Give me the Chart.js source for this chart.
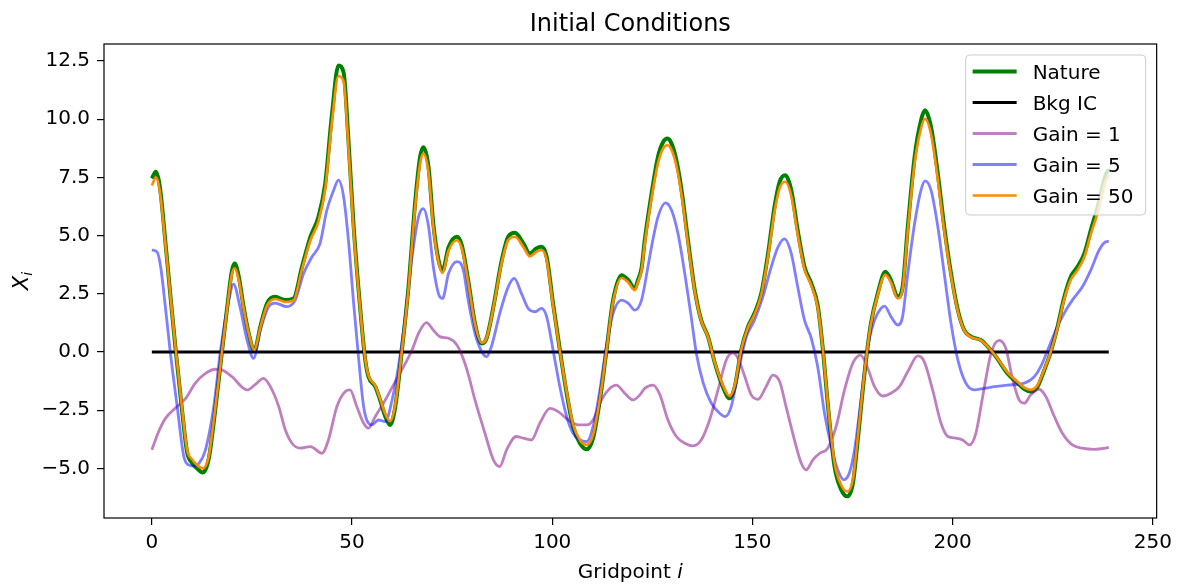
<!DOCTYPE html>
<html>
<head>
<meta charset="utf-8">
<script src="https://cdn.jsdelivr.net/npm/chart.js@4.4.1/dist/chart.umd.min.js"></script>
<style>
  body { margin: 0; background: #fff; }
  canvas { display: block; }
</style>
</head>
<body>
<canvas id="ic" width="1178" height="588"></canvas>
<script>
// gridpoint, value pairs for each field
let nature = [
  [0, 7.45], [1, 7.74], [2, 7.1], [3.4, 4.7], [4.7, 2.3], [6, 0], [7.6, -2.6], [8.8, -4.3], [10, -4.75],
  [11.3, -5.0], [12.7, -5.18], [14.2, -4.6], [15.4, -3.1], [16.7, -1.2], [17.5, 0], [18.8, 1.9], [20, 3.5],
  [20.7, 3.8], [21.7, 3.25], [22.9, 1.95], [24.2, 0.8], [25.6, 0.05], [27.1, 1.1], [28.8, 2.1], [30.8, 2.37],
  [33.3, 2.23], [35.4, 2.3], [37.5, 3.66], [39.6, 4.95], [41.6, 5.8], [43.3, 7.24], [45, 10.24], [46.6, 12.31],
  [47.9, 12.0], [49.1, 9.1], [50.4, 5.4], [52, 1.94], [53.3, -0.34], [54.1, -1.06], [55.8, -1.49], [57, -2.06],
  [58.3, -2.77], [59.5, -3.13], [60.8, -2.35], [62.4, 0], [64.1, 2.8], [65.8, 6.5], [67, 8.38], [67.8, 8.8],
  [69.1, 7.95], [70.3, 5.5], [71.6, 3.95], [72.6, 3.5], [74.1, 4.5], [76.2, 4.95], [77.4, 4.6], [79, 3.09],
  [80.7, 1.23], [82.4, 0.37], [83.6, 0.59], [85.3, 1.94], [87.4, 3.95], [89, 4.95], [90.7, 5.12], [92.8, 4.66],
  [94.4, 4.23], [96, 4.45], [97.3, 4.52], [98.6, 4.09], [100.2, 2.09], [101.9, 0.09], [103.6, -1.77],
  [105.2, -3.2], [106.9, -3.92], [108.6, -4.18], [110.2, -3.7], [111.9, -2.06], [113.5, 0], [115.2, 2.23],
  [117.3, 3.3], [119, 3.09], [120.6, 2.73], [121.4, 3.09], [122.3, 3.6], [123.1, 4.8], [124.8, 6.8],
  [126.4, 8.38], [127.7, 9.02], [128.8, 9.17], [129.8, 8.95], [131, 8.24], [132.3, 6.95], [133.9, 4.8],
  [135.6, 2.66], [137.2, 1.37], [138.9, 0.66], [140.6, -0.47], [142.6, -1.49], [144.3, -1.99], [145.6, -1.49],
  [147.2, 0.09], [148.9, 1.09], [150.5, 1.66], [152.2, 2.52], [153.9, 4.23], [155.5, 6.23], [156.8, 7.31],
  [158.2, 7.59], [159.7, 6.95], [161.3, 5.23], [163, 3.66], [164.7, 2.95], [166.3, 2.0], [167.6, 0.1],
  [168.8, -2.2], [170.5, -4.92], [172.2, -5.92], [173.7, -6.2], [175.1, -5.63], [176.3, -3.78], [178, -0.9],
  [179.6, 1.23], [181.3, 2.52], [183.2, 3.45], [184.6, 3.09], [186.3, 2.37], [187.5, 2.8], [188.8, 5.38],
  [190.5, 8.38], [192.1, 9.95], [193.1, 10.38], [194.6, 9.67], [196.3, 7.66], [197.9, 5.38], [199.6, 3.37],
  [201.3, 1.8], [202.9, 0.94], [204.6, 0.66], [207.1, 0.51], [208.7, 0.24], [210.8, -0.2], [213.7, -0.92],
  [216.2, -1.33], [217.9, -1.59], [219.5, -1.7], [221.2, -1.49], [222.9, -0.77], [224.5, 0], [226.2, 1.09],
  [227.9, 2.37], [229.5, 3.23], [231.2, 3.66], [232.9, 4.23], [234.5, 5.23], [236.2, 6.23], [238.2, 7.6],
  [239, 7.85]
]

let bkgIC = [[0, 0], [239, 0]]

let gain1 = [
  [0, -4.2], [1.75, -3.4], [3.4, -2.85], [5.9, -2.4], [8.4, -2.0], [10.9, -1.33], [13.4, -0.92], [15.9, -0.74],
  [17.5, -0.77], [20, -1.06], [23.8, -1.63], [25.8, -1.4], [27.9, -1.13], [29.6, -1.49], [31.7, -2.35],
  [33.3, -3.33], [35, -3.92], [37, -4.13], [39.6, -4.06], [42.5, -4.35], [44.1, -3.78], [46.2, -2.35],
  [48.3, -1.7], [49.5, -1.63], [51.2, -2.35], [52.9, -3.06], [54.1, -3.27], [55.8, -2.77], [58.3, -2.06],
  [60.8, -1.27], [63.3, -0.49], [65, 0.09], [66.6, 0.8], [68.6, 1.26], [70.3, 0.94], [71.9, 0.66], [74.1, 0.59],
  [76.2, 0.3], [77.8, -0.3], [79.1, -1.0], [80.7, -2.06], [83.2, -3.49], [85.3, -4.63], [86.9, -4.92],
  [88.6, -4.2], [91, -3.63], [92.8, -3.7], [94.8, -3.78], [96.9, -3.06], [99.4, -2.42], [101.5, -2.56],
  [104, -2.92], [106.5, -3.13], [108.6, -3.13], [110.2, -2.92], [112.3, -2.06], [114.4, -1.56], [116, -1.42],
  [118.1, -1.77], [120.2, -2.06], [121.9, -1.84], [123.1, -1.56], [125.2, -1.42], [126.9, -1.84], [128.9, -2.92],
  [131, -3.63], [133.1, -3.92], [135.1, -4.03], [137.2, -3.78], [139.3, -2.92], [141.4, -1.63], [143.5, -0.33],
  [145.1, -0.04], [146.4, -0.27], [148.1, -1.06], [149.7, -1.84], [151.4, -2.03], [153.4, -1.49], [155.1, -0.99],
  [156.8, -1.27], [158.4, -2.35], [160.5, -3.78], [162.2, -4.78], [163.4, -5.06], [165.1, -4.63], [166.8, -4.35],
  [168.8, -4.13], [170.9, -3.2], [173, -1.63], [175.1, -0.47], [177, -0.13], [178.8, -0.7], [180.5, -1.49],
  [182.5, -1.89], [184.6, -1.77], [186.7, -1.49], [188.8, -0.84], [191.3, -0.17], [192.9, -0.41], [195, -1.63],
  [197.1, -3.06], [198.8, -3.63], [200.8, -3.7], [202.5, -3.78], [204.2, -3.99], [205.8, -3.49], [207.5, -1.92],
  [209.6, -0.06], [211.6, 0.5], [213.3, 0.15], [215, -1.19], [216.6, -2.06], [217.9, -2.2], [219.5, -1.84],
  [221.6, -1.6], [223.3, -1.92], [225.4, -2.77], [227.4, -3.49], [229.9, -3.99], [232.4, -4.13], [235.3, -4.18],
  [238.2, -4.13], [239, -4.1]
]

let gain5 = [
  [0, 4.38], [1.3, 4.3], [2.2, 3.66], [3.4, 1.9], [4.6, 0], [6.3, -2.3], [8, -4.5], [9.2, -4.85], [10.5, -4.9],
  [11.7, -4.8], [13.4, -4.2], [15.5, -2.3], [17.1, 0], [19.2, 2.2], [20.4, 2.92], [22, 1.95], [23.8, 0.5],
  [25.4, -0.27], [27.1, 0.94], [29.2, 1.95], [30.8, 2.1], [33.7, 1.95], [35.8, 2.23], [37.9, 3.37], [40, 4.09],
  [42, 4.66], [43.7, 6.09], [45.4, 6.95], [46.6, 7.38], [47.9, 6.66], [49.1, 4.8], [50.4, 2.09], [51.6, -0.2],
  [52.9, -2.35], [54.1, -3.06], [55, -3.13], [56.6, -2.92], [58.3, -2.99], [60, -2.06], [61.6, -0.6],
  [63.3, 1.52], [65, 4.09], [66.6, 5.8], [67.8, 6.16], [69.1, 5.4], [70.3, 3.66], [71.6, 2.5], [72.6, 2.3],
  [74.1, 3.37], [76.2, 3.88], [77.8, 3.52], [79, 2.23], [80.7, 0.8], [82.4, 0.01], [83.6, -0.2], [84.8, 0.23],
  [86.9, 1.66], [89, 2.8], [90.5, 3.16], [92.3, 2.52], [94, 1.87], [95.7, 1.73], [97.3, 1.87], [98.6, 1.52],
  [100.2, 0.09], [101.9, -1.49], [103.6, -2.77], [105.2, -3.49], [106.9, -3.78], [108.6, -3.85], [110.2, -3.2],
  [111.9, -1.63], [113.5, 0.23], [115.2, 1.66], [117.3, 2.23], [119, 2.09], [120.6, 1.8], [122.3, 2.23],
  [123.9, 3.66], [124.8, 4.52], [126.4, 5.8], [128.3, 6.41], [129.8, 6.09], [131.4, 5.09], [133.1, 3.37],
  [134.7, 1.52], [136, -0.06], [137.7, -1.33], [139.7, -2.19], [141.8, -2.63], [143.2, -2.77], [144.7, -2.35],
  [146.4, -0.9], [148.5, 0.66], [150.5, 1.37], [152.6, 2.37], [154.7, 3.66], [156.4, 4.52], [158, 4.86],
  [159.7, 4.23], [161.3, 2.8], [163, 1.37], [164.7, 0.59], [166.3, -0.63], [168, -2.63], [169.7, -4.06],
  [171.3, -5.06], [172.8, -5.49], [174.2, -5.2], [175.5, -4.2], [177.2, -1.92], [178.8, 0.24], [180.5, 1.37],
  [182.1, 1.87], [183, 1.97], [184.6, 1.52], [186.3, 1.16], [187.5, 1.52], [188.8, 3.37], [190.5, 5.52],
  [192.1, 6.95], [193.1, 7.35], [194.6, 6.95], [196.3, 5.38], [197.9, 3.37], [199.6, 1.23], [201.3, -0.34],
  [203.3, -1.34], [205.4, -1.63], [207.9, -1.56], [210.4, -1.49], [213.7, -1.42], [217.9, -1.34], [220.4, -1.06],
  [222, -0.63], [224.1, 0.24], [226.2, 1.1], [228.3, 1.8], [229.9, 2.23], [232.4, 2.8], [234.5, 3.52],
  [236.6, 4.38], [238.2, 4.73], [239, 4.75]
]

let gain50 = [
  [0, 7.15], [1, 7.5], [2, 6.9], [3.4, 4.6], [4.7, 2.3], [6, 0.05], [7.6, -2.5], [8.8, -4.2], [10, -4.6],
  [11.3, -4.85], [12.7, -5.0], [14.2, -4.5], [15.4, -3.0], [16.7, -1.2], [17.5, 0], [18.8, 1.85], [20, 3.35],
  [20.7, 3.6], [21.7, 3.1], [22.9, 1.9], [24.2, 0.8], [25.6, 0.1], [27.1, 1.05], [28.8, 2.0], [30.8, 2.28],
  [33.3, 2.15], [35.4, 2.22], [37.5, 3.55], [39.6, 4.8], [41.6, 5.6], [43.3, 7.0], [45, 9.9], [46.6, 11.85],
  [47.9, 11.6], [49.1, 8.8], [50.4, 5.2], [52, 1.9], [53.3, -0.3], [54.1, -1.0], [55.8, -1.45], [57, -2.0],
  [58.3, -2.65], [59.5, -2.97], [60.8, -2.25], [62.4, 0], [64.1, 2.7], [65.8, 6.3], [67, 8.1], [67.8, 8.52],
  [69.1, 7.7], [70.3, 5.35], [71.6, 3.85], [72.6, 3.4], [74.1, 4.35], [76.2, 4.8], [77.4, 4.45], [79, 3.0],
  [80.7, 1.2], [82.4, 0.4], [83.6, 0.6], [85.3, 1.9], [87.4, 3.85], [89, 4.8], [90.7, 4.95], [92.8, 4.5],
  [94.4, 4.1], [96, 4.3], [97.3, 4.38], [98.6, 3.95], [100.2, 2.0], [101.9, 0.05], [103.6, -1.7], [105.2, -3.1],
  [106.9, -3.78], [108.6, -3.99], [110.2, -3.55], [111.9, -2.0], [113.5, 0], [115.2, 2.15], [117.3, 3.18],
  [119, 2.98], [120.6, 2.65], [121.4, 3.0], [122.3, 3.5], [123.1, 4.65], [124.8, 6.6], [126.4, 8.1],
  [127.7, 8.75], [128.8, 8.88], [129.8, 8.68], [131, 8.0], [132.3, 6.75], [133.9, 4.65], [135.6, 2.6],
  [137.2, 1.35], [138.9, 0.65], [140.6, -0.45], [142.6, -1.42], [144.3, -1.89], [145.6, -1.42], [147.2, 0.1],
  [148.9, 1.05], [150.5, 1.6], [152.2, 2.45], [153.9, 4.1], [155.5, 6.0], [156.8, 7.05], [158.2, 7.31],
  [159.7, 6.7], [161.3, 5.05], [163, 3.55], [164.7, 2.85], [166.3, 1.9], [167.6, 0.1], [168.8, -2.15],
  [170.5, -4.75], [172.2, -5.72], [173.7, -5.99], [175.1, -5.45], [176.3, -3.65], [178, -0.85], [179.6, 1.2],
  [181.3, 2.45], [183.2, 3.32], [184.6, 2.98], [186.3, 2.3], [187.5, 2.7], [188.8, 5.2], [190.5, 8.1],
  [192.1, 9.6], [193.1, 10.02], [194.6, 9.35], [196.3, 7.4], [197.9, 5.2], [199.6, 3.27], [201.3, 1.75],
  [202.9, 0.92], [204.6, 0.64], [207.1, 0.5], [208.7, 0.24], [210.8, -0.18], [213.7, -0.88], [216.2, -1.28],
  [217.9, -1.53], [219.5, -1.62], [221.2, -1.42], [222.9, -0.73], [224.5, 0], [226.2, 1.04], [227.9, 2.28],
  [229.5, 3.1], [231.2, 3.52], [232.9, 4.08], [234.5, 5.05], [236.2, 5.98], [238.2, 7.35], [239, 7.6]
]

let xTicks = [0, 50, 100, 150, 200, 250]
let yTicks = [-5, -2.5, 0, 2.5, 5, 7.5, 10, 12.5]

const FONT = "'DejaVu Sans', sans-serif"

function toXY(pts) {
    return pts.map(p => ({ x: p[0], y: p[1] }))
}

function series(label, pts, color, width, order) {
    return {
        label: label,
        data: toXY(pts),
        borderColor: color,
        borderWidth: width,
        pointRadius: 0,
        fill: false,
        cubicInterpolationMode: 'monotone',
        order: order
    }
}

// frame, titles and the boxed legend, drawn on top of the chart
let decorations = {
    id: 'decorations',
    afterDraw(chart) {
        let ctx = chart.ctx
        let area = chart.chartArea
        ctx.save()

        ctx.strokeStyle = '#000'
        ctx.lineWidth = 1.2
        ctx.strokeRect(area.left, area.top, area.right - area.left, area.bottom - area.top)

        ctx.fillStyle = '#000'
        ctx.textAlign = 'center'
        ctx.textBaseline = 'alphabetic'
        ctx.font = '24px ' + FONT
        ctx.fillText('Initial Conditions', (area.left + area.right) / 2, 31)

        // x axis title: "Gridpoint" plus an italic i
        ctx.font = '20px ' + FONT
        let w1 = ctx.measureText('Gridpoint ').width
        ctx.font = 'italic 20px ' + FONT
        let w2 = ctx.measureText('i').width
        let x0 = (area.left + area.right) / 2 - (w1 + w2) / 2
        ctx.textAlign = 'left'
        ctx.font = '20px ' + FONT
        ctx.fillText('Gridpoint ', x0, 578)
        ctx.font = 'italic 20px ' + FONT
        ctx.fillText('i', x0 + w1, 578)

        // y axis title: X with subscript i, rotated
        ctx.save()
        ctx.translate(28, 281)
        ctx.rotate(-Math.PI / 2)
        ctx.font = 'italic 21px ' + FONT
        let wx = ctx.measureText('X').width
        ctx.font = 'italic 14px ' + FONT
        let wi = ctx.measureText('i').width
        ctx.font = 'italic 21px ' + FONT
        ctx.fillText('X', -(wx + wi) / 2, 0)
        ctx.font = 'italic 14px ' + FONT
        ctx.fillText('i', -(wx + wi) / 2 + wx, 4)
        ctx.restore()

        // legend box in the upper right corner
        let bw = 180, bh = 160
        let bx = area.right - 11 - bw
        let by = area.top + 11
        ctx.beginPath()
        ctx.roundRect(bx, by, bw, bh, 4)
        ctx.fillStyle = 'rgba(255,255,255,0.8)'
        ctx.fill()
        ctx.strokeStyle = '#cccccc'
        ctx.lineWidth = 1
        ctx.stroke()

        ctx.font = '20px ' + FONT
        ctx.textAlign = 'left'
        chart.data.datasets.forEach((ds, i) => {
            let ry = by + 16.5 + i * 31
            ctx.beginPath()
            ctx.moveTo(bx + 7, ry)
            ctx.lineTo(bx + 51, ry)
            ctx.strokeStyle = ds.borderColor
            ctx.lineWidth = ds.borderWidth
            ctx.stroke()
            ctx.fillStyle = '#000'
            ctx.fillText(ds.label, bx + 67, ry + 7)
        })

        ctx.restore()
    }
}

let ctx1 = document.getElementById('ic').getContext('2d')

let icChart = new Chart(ctx1, {
    type: 'line',
    data: {
        datasets: [
            series('Nature', nature, '#008000', 4, 5),
            series('Bkg IC', bkgIC, '#000000', 2.8, 4),
            series('Gain = 1', gain1, 'rgba(128,0,128,0.5)', 2.8, 3),
            series('Gain = 5', gain5, 'rgba(0,0,255,0.5)', 2.8, 2),
            series('Gain = 50', gain50, '#ff8c00', 2.6, 1)
        ]
    },
    options: {
        responsive: false,
        devicePixelRatio: 1,
        animation: false,
        layout: { padding: { left: 0, top: 44, right: 21, bottom: 0 } },
        plugins: {
            legend: { display: false },
            title: { display: false },
            tooltip: { enabled: false }
        },
        scales: {
            x: {
                type: 'linear',
                min: -11.95,
                max: 250.95,
                afterBuildTicks: scale => { scale.ticks = xTicks.map(v => ({ value: v })) },
                afterFit: scale => { scale.height = 70 },
                border: { display: false },
                grid: { display: true, drawOnChartArea: false, drawTicks: true, tickLength: 7, color: '#000', lineWidth: 1.2 },
                ticks: {
                    padding: 6,
                    color: '#000',
                    font: { family: FONT, size: 20 },
                    maxRotation: 0,
                    callback: v => String(v)
                }
            },
            y: {
                type: 'linear',
                min: -7.13,
                max: 13.23,
                afterBuildTicks: scale => { scale.ticks = yTicks.map(v => ({ value: v })) },
                afterFit: scale => { scale.width = 104 },
                border: { display: false },
                grid: { display: true, drawOnChartArea: false, drawTicks: true, tickLength: 7, color: '#000', lineWidth: 1.2 },
                ticks: {
                    padding: 7,
                    color: '#000',
                    font: { family: FONT, size: 20 },
                    callback: v => v.toFixed(1).replace('-', '\u2212')
                }
            }
        }
    },
    plugins: [decorations]
});
</script>
</body>
</html>
